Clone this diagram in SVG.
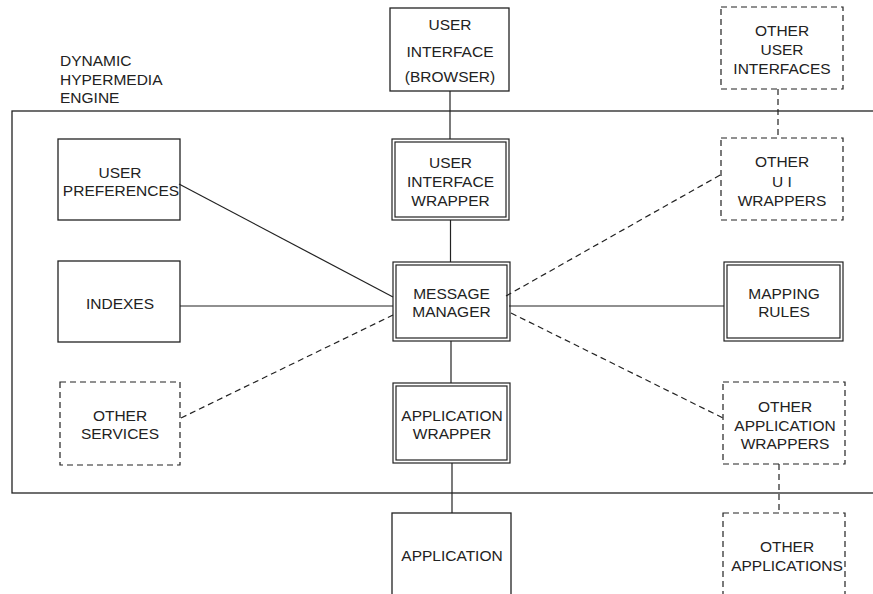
<svg xmlns="http://www.w3.org/2000/svg" width="873" height="594" viewBox="0 0 873 594">
<style>
.box{fill:none;stroke:#222;stroke-width:1.3}
.dbl{fill:none;stroke:#222;stroke-width:1.2}
.dash{fill:none;stroke:#222;stroke-width:1.2;stroke-dasharray:6,4}
.ln{fill:none;stroke:#222;stroke-width:1.2}
text{font-family:"Liberation Sans",Arial,sans-serif;font-size:15.5px;fill:#222;text-anchor:middle}
.lt{text-anchor:start}
</style>
<rect width="873" height="594" fill="#fff"/>
<g id="engine">
<rect class="box" x="12" y="111" width="875" height="382"/>
<text class="lt" x="60" y="66">DYNAMIC</text>
<text class="lt" x="60" y="84.5">HYPERMEDIA</text>
<text class="lt" x="60" y="103">ENGINE</text>
</g>
<g id="connectors">
<line class="ln" x1="450" y1="91" x2="450" y2="139"/>
<line class="ln" x1="450.5" y1="220" x2="450.5" y2="262"/>
<line class="ln" x1="451" y1="341" x2="451" y2="383"/>
<line class="ln" x1="452" y1="463" x2="452" y2="513"/>
<line class="ln" x1="179" y1="184" x2="393" y2="297"/>
<line class="ln" x1="180" y1="306" x2="393" y2="306"/>
<line class="dash" x1="181" y1="418" x2="393" y2="315"/>
<line class="ln" x1="509" y1="306" x2="724" y2="306"/>
<line class="dash" x1="506" y1="296" x2="722" y2="174"/>
<line class="dash" x1="511" y1="313" x2="723" y2="418"/>
<line class="dash" x1="778" y1="89" x2="778" y2="138"/>
<line class="dash" x1="779" y1="464" x2="779" y2="513"/>
</g>
<g id="ui-browser">
<rect class="box" x="390" y="8" width="119" height="83"/>
<text x="450" y="29.5">USER</text>
<text x="450" y="56.5">INTERFACE</text>
<text x="450" y="82">(BROWSER)</text>
</g>
<g id="ui-wrapper">
<rect class="dbl" x="392" y="139" width="117" height="81"/>
<rect class="dbl" x="395" y="142" width="111" height="75"/>
<text x="450.5" y="168">USER</text>
<text x="450.5" y="187">INTERFACE</text>
<text x="450.5" y="206">WRAPPER</text>
</g>
<g id="message-manager">
<rect class="dbl" x="393" y="262" width="117" height="79"/>
<rect class="dbl" x="396" y="265" width="111" height="73"/>
<text x="451.5" y="299">MESSAGE</text>
<text x="451.5" y="317">MANAGER</text>
</g>
<g id="app-wrapper">
<rect class="dbl" x="393" y="383" width="117" height="80"/>
<rect class="dbl" x="396" y="386" width="111" height="74"/>
<text x="452" y="421">APPLICATION</text>
<text x="452" y="439">WRAPPER</text>
</g>
<g id="application">
<rect class="box" x="392" y="513" width="119" height="100"/>
<text x="452" y="561">APPLICATION</text>
</g>
<g id="user-preferences">
<rect class="box" x="58" y="139" width="122" height="81"/>
<text x="120" y="178">USER</text>
<text x="121" y="195.5">PREFERENCES</text>
</g>
<g id="indexes">
<rect class="box" x="58" y="261" width="122" height="81"/>
<text x="120" y="309">INDEXES</text>
</g>
<g id="other-services">
<rect class="dash" x="60" y="382" width="120" height="83"/>
<text x="120" y="421">OTHER</text>
<text x="120" y="439">SERVICES</text>
</g>
<g id="other-user-interfaces">
<rect class="dash" x="721" y="7" width="122" height="82"/>
<text x="782" y="36">OTHER</text>
<text x="782" y="55">USER</text>
<text x="782" y="74">INTERFACES</text>
</g>
<g id="other-ui-wrappers">
<rect class="dash" x="721" y="138" width="122" height="82"/>
<text x="782" y="167">OTHER</text>
<text x="782" y="187">U I</text>
<text x="782" y="206">WRAPPERS</text>
</g>
<g id="mapping-rules">
<rect class="dbl" x="724" y="262" width="119" height="79"/>
<rect class="dbl" x="727" y="265" width="113" height="73"/>
<text x="784" y="299">MAPPING</text>
<text x="784" y="317">RULES</text>
</g>
<g id="other-app-wrappers">
<rect class="dash" x="723" y="382" width="122" height="82"/>
<text x="785" y="412">OTHER</text>
<text x="785" y="431">APPLICATION</text>
<text x="785" y="449">WRAPPERS</text>
</g>
<g id="other-applications">
<rect class="dash" x="723" y="513" width="122" height="100"/>
<text x="787" y="552">OTHER</text>
<text x="787" y="571">APPLICATIONS</text>
</g>
</svg>
